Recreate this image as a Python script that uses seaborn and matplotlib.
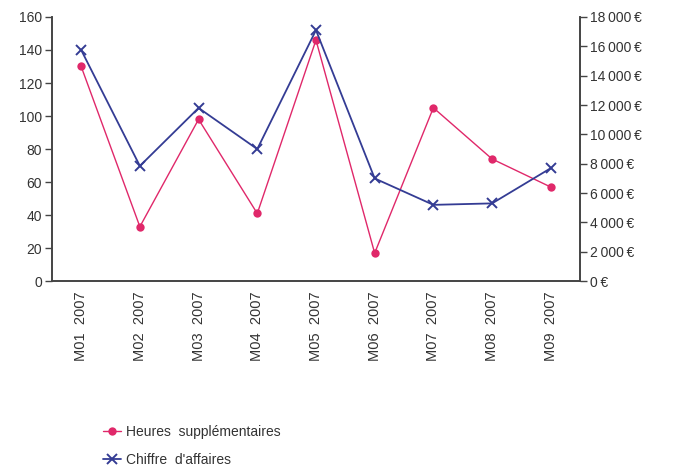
import numpy as np
import pandas as pd
import matplotlib
matplotlib.use("Agg")
import matplotlib.pyplot as plt
import seaborn as sns
from matplotlib.ticker import FuncFormatter, MultipleLocator, FixedLocator

months = ["M01  2007", "M02  2007", "M03  2007", "M04  2007", "M05  2007",
          "M06  2007", "M07  2007", "M08  2007", "M09  2007"]
heures = [130, 33, 98, 41, 146, 17, 105, 74, 57]
chiffre = [15750, 7850, 11800, 9000, 17100, 7000, 5200, 5300, 7700]

pink = "#e0286a"
navy = "#343c94"
grey = "#444444"

sns.set_style("white")
plt.rcParams["font.family"] = ["Liberation Sans", "DejaVu Sans"]

df = pd.DataFrame({"pos": np.arange(len(months)), "mois": months,
                   "heures": heures, "chiffre": chiffre})

fig = plt.figure(figsize=(6.73, 4.71), dpi=100)
ax = fig.add_axes([0.077, 0.403, 0.785, 0.561])
ax2 = ax.twinx()

sns.lineplot(data=df, x="pos", y="heures", ax=ax, color=pink, lw=1,
             marker="o", markersize=6, markeredgewidth=0, sort=False,
             label="Heures  supplémentaires", legend=False)
sns.lineplot(data=df, x="pos", y="chiffre", ax=ax2, color=navy, lw=1.3,
             marker="x", markersize=7.5, markeredgewidth=1.4,
             markeredgecolor=navy, sort=False,
             label="Chiffre  d'affaires", legend=False)

ax.set_xlim(-0.5, len(months) - 0.5)
ax.set_ylim(0, 160)
ax2.set_ylim(0, 18000)
ax.yaxis.set_major_locator(MultipleLocator(20))
ax2.yaxis.set_major_locator(MultipleLocator(2000))
ax2.yaxis.set_major_formatter(FuncFormatter(
    lambda v, p: f"{int(v):,}".replace(",", "\u2009") + "\u2009€" if v else "0\u2009€"))

ax.xaxis.set_major_locator(FixedLocator(np.arange(-0.5, len(months), 1.0)))
ax.xaxis.set_major_formatter(FuncFormatter(lambda v, p: ""))
ax.xaxis.set_minor_locator(FixedLocator(df["pos"]))
ax.set_xticklabels(months, minor=True, rotation=90)
ax.tick_params(axis="x", which="minor", length=0, pad=7)
ax.tick_params(axis="x", which="major", length=5, width=1, color=grey, direction="inout")

for a in (ax, ax2):
    a.set_xlabel("")
    a.set_ylabel("")
    for s in a.spines.values():
        s.set_color(grey)
        s.set_linewidth(1.2)
    a.spines["top"].set_visible(False)
    a.tick_params(axis="y", length=5, width=1, color=grey, labelsize=10,
                  labelcolor="#333333", pad=2, left=(a is ax), right=(a is ax2))
ax.tick_params(axis="x", which="minor", labelsize=10.5, labelcolor="#333333")

h1, l1 = ax.get_legend_handles_labels()
h2, l2 = ax2.get_legend_handles_labels()
fig.legend(h1 + h2, l1 + l2, loc="upper left", bbox_to_anchor=(0.135, 0.125),
           frameon=False, fontsize=10, handlelength=1.3, handletextpad=0.3,
           labelspacing=1.0, labelcolor="#333333")

fig.savefig("out.png", dpi=100)
